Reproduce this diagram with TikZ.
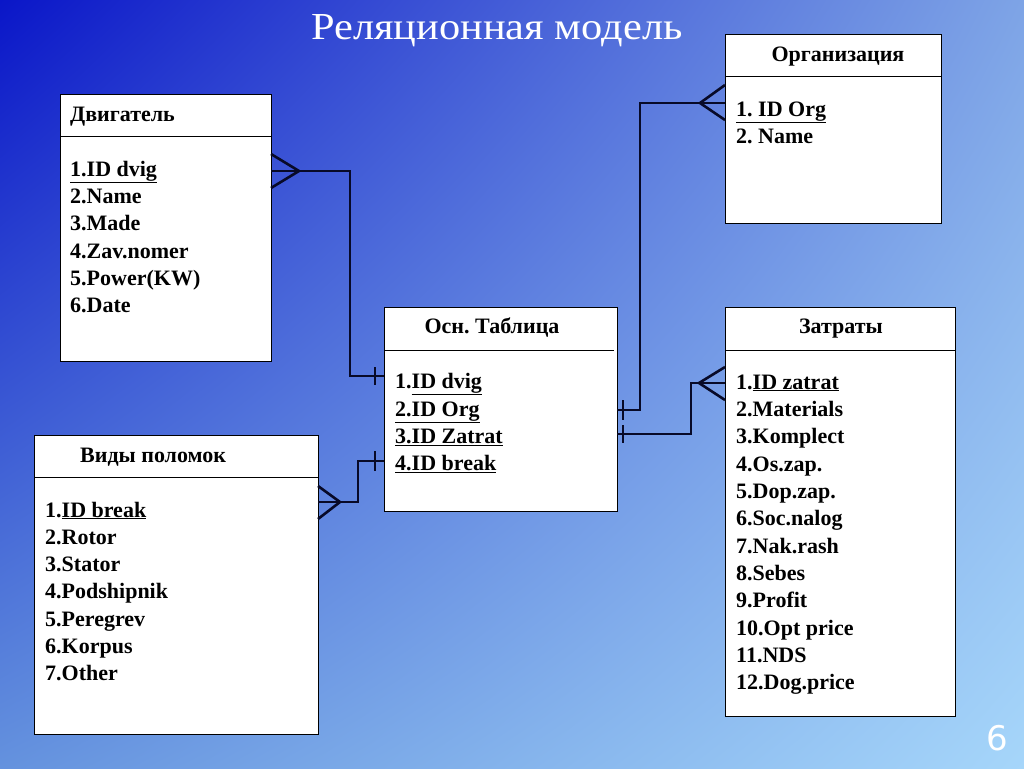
\documentclass[tikz,border=0pt]{standalone}
\usepackage{fontspec}
\setmainfont{Liberation Serif}
\newfontfamily\titlefont{Liberation Serif}
\newfontfamily\numfont{DejaVu Sans}
\usetikzlibrary{calc,shadings}
\frenchspacing
\definecolor{bgUL}{RGB}{10,22,200}
\definecolor{bgUR}{RGB}{126,164,230}
\definecolor{bgLL}{RGB}{100,146,222}
\definecolor{bgLR}{RGB}{166,214,250}
\definecolor{linkcol}{RGB}{8,10,40}
\tikzset{
  tablebox/.style={draw=black, line width=0.9pt, fill=white, anchor=north west, inner sep=0pt, outer sep=0pt},
  hdr/.style={font=\fontsize{22}{26}\selectfont\bfseries, inner sep=0pt, anchor=base},
  hdrl/.style={hdr, anchor=base west},
  item/.style={font=\fontsize{22}{26}\selectfont\bfseries, inner sep=0pt, anchor=base west},
  link/.style={draw=linkcol, line width=2.6pt, line join=miter},
  tick/.style={draw=linkcol, line width=1.3pt},
  divider/.style={draw=black, line width=0.9pt}
}
\begin{document}
\begin{tikzpicture}[x=1pt,y=-1pt]
\useasboundingbox (0,0) rectangle (1024,768);
\shade[upper left=bgUL, upper right=bgUR, lower left=bgLL, lower right=bgLR] (0,0) rectangle (1024,768);

% title and slide number
\node[text=white, inner sep=0pt, anchor=base] (title) at (497,40) {\resizebox{371pt}{25pt}{\titlefont Реляционная модель}};
\node[text=white, inner sep=0pt, anchor=base] (pnum) at (997,750) {\numfont\fontsize{34}{40}\selectfont 6};

% boxes
\node[tablebox, minimum width=211pt, minimum height=267pt] (dv) at (60,94) {};
\node[tablebox, minimum width=216pt, minimum height=189pt] (org) at (725,34) {};
\node[tablebox, minimum width=233pt, minimum height=204pt] (os) at (384,307) {};
\node[tablebox, minimum width=230pt, minimum height=409pt] (zt) at (725,307) {};
\node[tablebox, minimum width=284pt, minimum height=299pt] (vp) at (34,435) {};

% dividers
\draw[divider] (dv.west |- 0,136) -- (dv.east |- 0,136);
\draw[divider] (org.west |- 0,76) -- (org.east |- 0,76);
\draw[divider] (os.west |- 0,350) -- (614,350);
\draw[divider] (zt.west |- 0,350) -- (zt.east |- 0,350);
\draw[divider] (vp.west |- 0,477) -- (vp.east |- 0,477);

% Двигатель
\node[hdrl] (dvh) at (70,121) {Двигатель};
\node[item] (dv1) at (70,176) {\underline{1.ID dvig}};
\node[item] (dv2) at (70,203) {2.Name};
\node[item] (dv3) at (70,230) {3.Made};
\node[item] (dv4) at (70,258) {4.Zav.nomer};
\node[item] (dv5) at (70,285) {5.Power(KW)};
\node[item] (dv6) at (70,312) {6.Date};

% Организация
\node[hdr] (orgh) at (838,61) {Организация};
\node[item] (org1) at (736,116) {\underline{1. ID Org}};
\node[item] (org2) at (736,143) {2. Name};

% Осн. Таблица
\node[hdr] (osh) at (492,333) {Осн. Таблица};
\node[item] (os1) at (395,388) {1.\underline{ID dvig}};
\node[item] (os2) at (395,416) {\underline{2.ID Org}};
\node[item] (os3) at (395,443) {\underline{3.ID Zatrat}};
\node[item] (os4) at (395,470) {\underline{4.ID break}};

% Затраты
\node[hdr] (zth) at (841,333) {Затраты};
\node[item] (zt1) at (736,389) {1.\underline{ID zatrat}};
\node[item] (zt2) at (736,416) {2.Materials};
\node[item] (zt3) at (736,443) {3.Komplect};
\node[item] (zt4) at (736,471) {4.Os.zap.};
\node[item] (zt5) at (736,498) {5.Dop.zap.};
\node[item] (zt6) at (736,525) {6.Soc.nalog};
\node[item] (zt7) at (736,553) {7.Nak.rash};
\node[item] (zt8) at (736,580) {8.Sebes};
\node[item] (zt9) at (736,607) {9.Profit};
\node[item] (zt10) at (736,635) {10.Opt price};
\node[item] (zt11) at (736,662) {11.NDS};
\node[item] (zt12) at (736,689) {12.Dog.price};

% Виды поломок
\node[hdrl] (vph) at (80,462) {Виды поломок};
\node[item] (vp1) at (45,517) {1.\underline{ID break}};
\node[item] (vp2) at (45,544) {2.Rotor};
\node[item] (vp3) at (45,571) {3.Stator};
\node[item] (vp4) at (45,598) {4.Podshipnik};
\node[item] (vp5) at (45,626) {5.Peregrev};
\node[item] (vp6) at (45,653) {6.Korpus};
\node[item] (vp7) at (45,680) {7.Other};

% Двигатель -- Осн
\draw[link] (dv.east |- 0,154) -- (299,171) -- (dv.east |- 0,188);
\draw[link] (dv.east |- 0,171) -- (350,171) -- (350,376) -- (os.west |- 0,376);
\draw[tick] (375,367) -- (375,385);

% Виды -- Осн
\draw[link] (vp.east |- 0,486) -- (340,502) -- (vp.east |- 0,519);
\draw[link] (vp.east |- 0,502) -- (358,502) -- (358,461) -- (os.west |- 0,461);
\draw[tick] (375,451) -- (375,471);

% Организация -- Осн
\draw[link] (org.west |- 0,85) -- (700,103) -- (org.west |- 0,120);
\draw[link] (org.west |- 0,103) -- (640,103) -- (640,410) -- (os.east |- 0,410);
\draw[tick] (623,400) -- (623,420);

% Затраты -- Осн
\draw[link] (zt.west |- 0,367) -- (699,383) -- (zt.west |- 0,400);
\draw[link] (zt.west |- 0,383) -- (691,383) -- (691,434) -- (os.east |- 0,434);
\draw[tick] (623,425) -- (623,443);
\end{tikzpicture}
\end{document}
